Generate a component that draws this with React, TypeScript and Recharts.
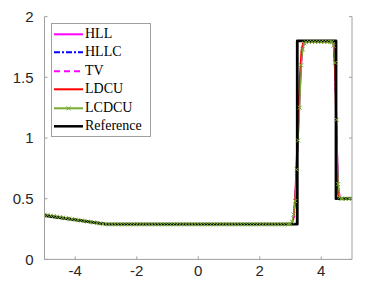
import React from "react";
import { ComposedChart, Line, XAxis, YAxis } from "recharts";

// ---------- data ----------
const xTicks = [-4, -2, 0, 2, 4];
const yTicks = [0, 0.5, 1, 1.5, 2];

// numerical grid (pieces)
const xLeft = [
  -5, -4.9, -4.8, -4.7, -4.6, -4.5, -4.4, -4.3, -4.2, -4.1,
  -4, -3.9, -3.8, -3.7, -3.6, -3.5, -3.4, -3.3, -3.2, -3.1,
  -3, -2.9, -2.8, -2.7, -2.6, -2.5, -2.4, -2.3, -2.2, -2.1,
  -2, -1.9, -1.8, -1.7, -1.6, -1.5, -1.4, -1.3, -1.2, -1.1,
  -1, -0.9, -0.8, -0.7, -0.6, -0.5, -0.4, -0.3, -0.2, -0.1,
  0, 0.1, 0.2, 0.3, 0.4, 0.5, 0.6, 0.7, 0.8, 0.9,
  1, 1.1, 1.2, 1.3, 1.4, 1.5, 1.6, 1.7, 1.8, 1.9,
  2, 2.1, 2.2, 2.3, 2.4, 2.5, 2.6, 2.7, 2.8, 2.9,
];
const leftState = [
  0.368, 0.364, 0.36, 0.356, 0.352, 0.348, 0.344, 0.34, 0.336, 0.332,
  0.328, 0.324, 0.32, 0.316, 0.312, 0.308, 0.304, 0.3, 0.296, 0.292,
  0.29, 0.289, 0.289, 0.289, 0.289, 0.289, 0.289, 0.289, 0.289, 0.289,
  0.289, 0.289, 0.289, 0.289, 0.289, 0.289, 0.289, 0.289, 0.289, 0.289,
  0.289, 0.289, 0.289, 0.289, 0.289, 0.289, 0.289, 0.289, 0.289, 0.289,
  0.289, 0.289, 0.289, 0.289, 0.289, 0.289, 0.289, 0.289, 0.289, 0.289,
  0.289, 0.289, 0.289, 0.289, 0.289, 0.289, 0.289, 0.289, 0.289, 0.289,
  0.289, 0.289, 0.289, 0.289, 0.289, 0.289, 0.289, 0.289, 0.289, 0.29,
];
const xJump1 = [2.95, 3.0, 3.05, 3.1, 3.15, 3.2, 3.25, 3.3, 3.35, 3.4, 3.45, 3.5];
const hllJump1 = [0.29, 0.292, 0.3, 0.34, 0.47, 0.74, 1.02, 1.32, 1.6, 1.74, 1.78, 1.79];
const hllcJump1 = [0.29, 0.292, 0.3, 0.35, 0.5, 0.8, 1.1, 1.42, 1.66, 1.76, 1.79, 1.79];
const tvJump1 = [0.29, 0.293, 0.305, 0.35, 0.48, 0.76, 1.05, 1.36, 1.63, 1.75, 1.78, 1.79];
const ldcuJump1 = [0.29, 0.292, 0.3, 0.34, 0.52, 0.85, 1.2, 1.5, 1.72, 1.78, 1.79, 1.79];
const lcdcuJump1 = [0.29, 0.293, 0.31, 0.37, 0.48, 0.74, 0.98, 1.25, 1.6, 1.73, 1.78, 1.79];

const xPlateau = [3.6, 3.7, 3.8, 3.9, 4.0, 4.1, 4.2, 4.3];
const plateauState = [1.792, 1.792, 1.792, 1.792, 1.792, 1.792, 1.792, 1.792];

const xJump2 = [4.35, 4.4, 4.45, 4.5, 4.55, 4.6, 4.65, 4.7];
const hllJump2 = [1.79, 1.77, 1.6, 1.1, 0.62, 0.52, 0.5, 0.5];
const hllcJump2 = [1.79, 1.78, 1.55, 1.0, 0.56, 0.51, 0.5, 0.5];
const tvJump2 = [1.79, 1.77, 1.58, 1.05, 0.6, 0.51, 0.5, 0.5];
const ldcuJump2 = [1.79, 1.78, 1.5, 0.9, 0.53, 0.5, 0.5, 0.5];
const lcdcuJump2 = [1.79, 1.76, 1.62, 1.15, 0.62, 0.51, 0.5, 0.5];

const xRight = [4.8, 4.9, 5.0];
const rightState = [0.5, 0.5, 0.5];

// exact reference solution
const refX = [-5, -3, 3.22, 3.22, 4.48, 4.48, 5];
const refY = [0.36, 0.29, 0.29, 1.8, 1.8, 0.5, 0.5];

// ---------- assembly ----------
const xGrid = [...xLeft, ...xJump1, ...xPlateau, ...xJump2, ...xRight];
const assemble = (j1: number[], j2: number[]) => {
  const ys = [...leftState, ...j1, ...plateauState, ...j2, ...rightState];
  return xGrid.map((x, i) => ({ x, y: ys[i] }));
};
const hllData = assemble(hllJump1, hllJump2);
const hllcData = assemble(hllcJump1, hllcJump2);
const tvData = assemble(tvJump1, tvJump2);
const ldcuData = assemble(ldcuJump1, ldcuJump2);
const lcdcuData = assemble(lcdcuJump1, lcdcuJump2);
const refData = refX.map((x, i) => ({ x, y: refY[i] }));

// ---------- styles ----------
const AXIS = "#a0a0a0";
const LABEL = "#262626";
const GREEN = "#77AC30";
const SANS = "'Liberation Sans', Arial, Helvetica, sans-serif";
const SERIF = "Liberation Serif";

const series = [
  { name: "HLL", data: hllData, color: "#FF00FF", dash: undefined as string | undefined, width: 1.5, marker: false },
  { name: "HLLC", data: hllcData, color: "#0000FF", dash: "6 2 2 2", width: 1.5, marker: false },
  { name: "TV", data: tvData, color: "#FF00FF", dash: "6 4", width: 1.5, marker: false },
  { name: "LDCU", data: ldcuData, color: "#FF0000", dash: undefined, width: 1.5, marker: false },
  { name: "LCDCU", data: lcdcuData, color: GREEN, dash: undefined, width: 1.2, marker: true },
  { name: "Reference", data: refData, color: "#000000", dash: undefined, width: 2.8, marker: false },
];

const XMark = (props: any) => {
  const { cx, cy, index } = props;
  if (cx == null || cy == null) return <g key={`m-${index}`} />;
  const s = 2;
  return (
    <path
      key={`m-${index}`}
      d={`M${cx - s},${cy - s}L${cx + s},${cy + s}M${cx - s},${cy + s}L${cx + s},${cy - s}`}
      stroke={GREEN}
      strokeWidth={1}
      fill="none"
    />
  );
};

const TL = 3; // inward tick length

const BottomTick = (props: any) => {
  const { x, y, payload } = props;
  const ay = y - 6;
  return (
    <g>
      <line x1={x} x2={x} y1={ay} y2={ay - TL} stroke={AXIS} />
      <text x={x} y={y} dy="0.71em" textAnchor="middle" fontSize={15} fill={LABEL} fontFamily={SANS}>
        {payload.value}
      </text>
    </g>
  );
};
const LeftTick = (props: any) => {
  const { x, y, payload } = props;
  const ax = x + 11;
  return (
    <g>
      <line x1={ax} x2={ax + TL} y1={y} y2={y} stroke={AXIS} />
      <text x={x} y={y} dy="0.355em" textAnchor="end" fontSize={15} fill={LABEL} fontFamily={SANS}>
        {payload.value}
      </text>
    </g>
  );
};
const TopTick = (props: any) => {
  const { x, y } = props;
  return <line x1={x} x2={x} y1={y} y2={y + TL} stroke={AXIS} />;
};
const RightTick = (props: any) => {
  const { x, y } = props;
  return <line x1={x} x2={x - TL} y1={y} y2={y} stroke={AXIS} />;
};

const LegendBox = () => (
  <div
    style={{
      position: "absolute",
      left: 51,
      top: 23,
      width: 100,
      height: 114,
      boxSizing: "border-box",
      border: `1px solid ${AXIS}`,
      background: "#fff",
      paddingTop: 0.5,
    }}
  >
    {series.map((s) => (
      <div key={s.name} style={{ display: "flex", alignItems: "center", height: 18.6 }}>
        <svg width={33} height={18.6} style={{ display: "block" }}>
          <line
            x1={2}
            x2={31}
            y1={9.3}
            y2={9.3}
            stroke={s.color}
            strokeWidth={s.name === "Reference" ? 2.5 : 2}
            strokeDasharray={s.dash}
          />
          {s.marker && (
            <path d="M14.5,7.3L18.5,11.3M14.5,11.3L18.5,7.3" stroke={GREEN} strokeWidth={1} />
          )}
        </svg>
        <span style={{ fontFamily: SERIF, fontSize: 14, color: "#000", lineHeight: "18.6px", marginLeft: 0 }}>
          {s.name}
        </span>
      </div>
    ))}
  </div>
);

export default function App() {
  return (
    <div style={{ position: "absolute", left: 0, top: 0, width: 377, height: 290, background: "#fff" }}>
      <ComposedChart
        width={377}
        height={290}
        margin={{ top: 16.6, right: 24, bottom: 0, left: 0 }}
      >
        <XAxis
          dataKey="x"
          type="number"
          domain={[-5, 5]}
          ticks={xTicks}
          interval={0}
          allowDataOverflow
          height={30.6}
          tickSize={0}
          tickMargin={6}
          tickLine={false}
          axisLine={{ stroke: AXIS }}
          tick={<BottomTick />}
        />
        <XAxis
          xAxisId="top"
          orientation="top"
          dataKey="x"
          type="number"
          domain={[-5, 5]}
          ticks={xTicks}
          interval={0}
          allowDataOverflow
          height={0}
          tickSize={0}
          tickMargin={0}
          tickLine={false}
          axisLine={{ stroke: AXIS }}
          tick={<TopTick />}
        />
        <YAxis
          type="number"
          domain={[0, 2]}
          ticks={yTicks}
          interval={0}
          allowDataOverflow
          width={44.5}
          tickSize={0}
          tickMargin={11}
          tickLine={false}
          axisLine={{ stroke: AXIS }}
          tick={<LeftTick />}
        />
        <YAxis
          yAxisId="right"
          orientation="right"
          type="number"
          domain={[0, 2]}
          ticks={yTicks}
          interval={0}
          allowDataOverflow
          width={1}
          tickSize={0}
          tickMargin={0}
          tickLine={false}
          axisLine={{ stroke: AXIS }}
          tick={<RightTick />}
        />
        {series.map((s) => (
          <Line
            key={s.name}
            data={s.data}
            dataKey="y"
            name={s.name}
            type="linear"
            stroke={s.color}
            strokeWidth={s.width}
            strokeDasharray={s.dash}
            strokeLinejoin="round"
            dot={s.marker ? <XMark /> : false}
            activeDot={false}
            isAnimationActive={false}
          />
        ))}
      </ComposedChart>
      <LegendBox />
    </div>
  );
}
